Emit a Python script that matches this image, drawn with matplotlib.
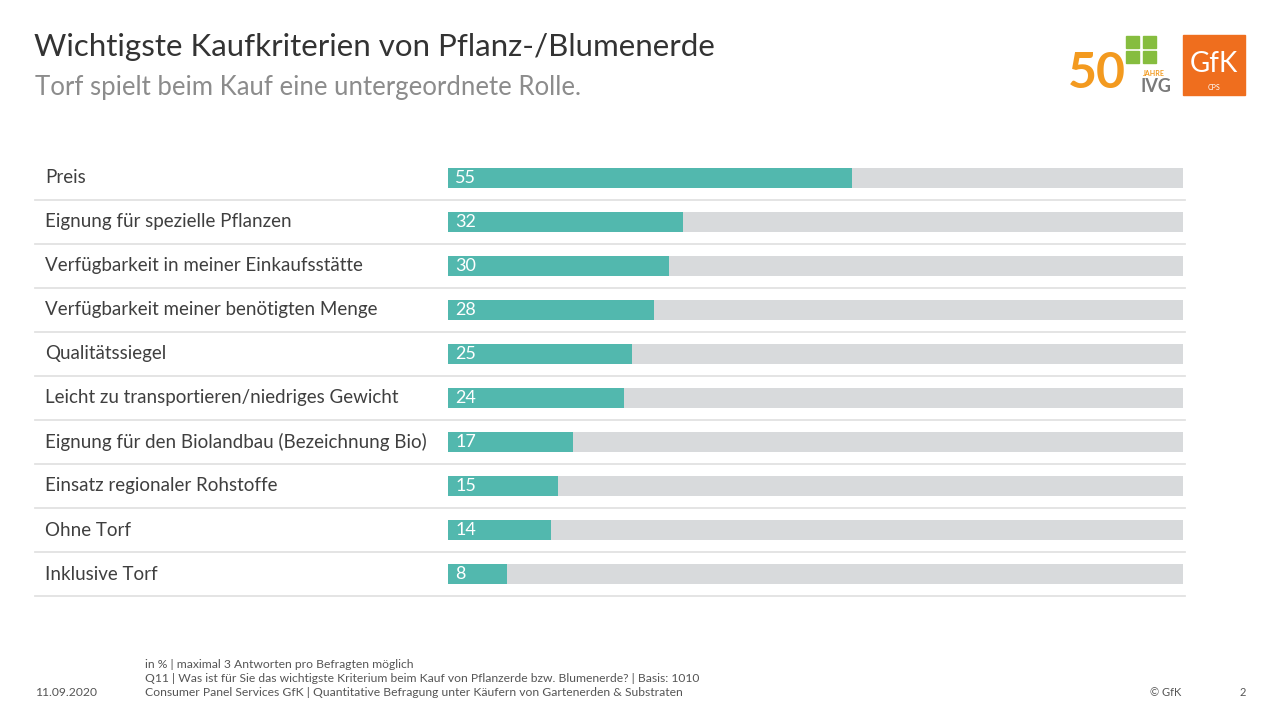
import matplotlib.pyplot as plt
from matplotlib.patches import Rectangle
import matplotlib.transforms as mtransforms

plt.rcParams['font.family'] = ['Lato', 'DejaVu Sans']

kriterien = [
    "Preis",
    "Eignung für spezielle Pflanzen",
    "Verfügbarkeit in meiner Einkaufsstätte",
    "Verfügbarkeit meiner benötigten Menge",
    "Qualitätssiegel",
    "Leicht zu transportieren/niedriges Gewicht",
    "Eignung für den Biolandbau (Bezeichnung Bio)",
    "Einsatz regionaler Rohstoffe",
    "Ohne Torf",
    "Inklusive Torf",
]
werte = [55, 32, 30, 28, 25, 24, 17, 15, 14, 8]
maximum = 100

fussnoten = [
    "in % | maximal 3 Antworten pro Befragten möglich",
    "Q11 | Was ist für Sie das wichtigste Kriterium beim Kauf von Pflanzerde bzw. Blumenerde? | Basis: 1010",
    "Consumer Panel Services GfK | Quantitative Befragung unter Käufern von Gartenerden & Substraten",
]

W, H = 1280, 720
fig = plt.figure(figsize=(12.8, 7.2), dpi=100)
fig.patch.set_facecolor("white")

def fx(px):
    return px / W

def fy(py):
    return 1 - py / H

teal = "#52b8ae"
grau = "#d8dadc"
textfarbe = "#3f3f3f"

# bar area
ax = fig.add_axes([fx(448), fy(596), fx(1183) - fx(448), 440 / H])
n = len(kriterien)
pos = list(range(n))
ax.barh(pos, [maximum] * n, height=0.47, color=grau, zorder=1)
ax.barh(pos, werte, height=0.47, color=teal, zorder=2)
ax.set_xlim(0, maximum)
ax.set_ylim(n - 0.5, -0.5)
ax.axis("off")

trans = mtransforms.blended_transform_factory(fig.transFigure, ax.transData)
for i, (k, v) in enumerate(zip(kriterien, werte)):
    ax.text(fx(45), i, k, transform=trans, ha="left", va="center",
            fontsize=13.5, color=textfarbe)
    ax.text(1.0, i, str(v), ha="left", va="center", fontsize=13,
            color="white", zorder=3)
    ax.plot([fx(35), fx(1185)], [i + 0.5, i + 0.5], transform=trans,
            color="#e2e2e2", lw=1.3, clip_on=False, zorder=0)

# title
fig.text(fx(34), fy(47), "Wichtigste Kaufkriterien von Pflanz-/Blumenerde",
         ha="left", va="center", fontsize=22.5, color="#333333")
fig.text(fx(35), fy(87), "Torf spielt beim Kauf eine untergeordnete Rolle.",
         ha="left", va="center", fontsize=18.5, color="#8c8c8c")

# logos
fig.patches.append(Rectangle((fx(1183), fy(95)), fx(62), 60 / H,
                             transform=fig.transFigure, color="#ef6e1e"))
fig.text(fx(1214), fy(64), "GfK", ha="center", va="center", fontsize=20,
         color="white")
fig.text(fx(1214), fy(87), "CPS", ha="center", va="center", fontsize=5,
         color="white")
fig.text(fx(1068), fy(74), "50", ha="left", va="center", fontsize=36,
         fontweight="bold", color="#f39a1f")
for (x0, y0) in [(1126, 36), (1143, 36), (1126, 51), (1143, 51)]:
    fig.patches.append(Rectangle((fx(x0), fy(y0 + 12)), fx(13), 12 / H,
                                 transform=fig.transFigure, color="#86bd3f"))
fig.text(fx(1143), fy(73), "JAHRE", ha="left", va="center", fontsize=5,
         fontweight="bold", color="#f39a1f")
fig.text(fx(1141), fy(87), "IVG", ha="left", va="center", fontsize=13,
         fontweight="bold", color="#7a7a7a")

# footer
for j, t in enumerate(fussnoten):
    fig.text(fx(145), fy(664 + 14 * j), t, ha="left", va="center",
             fontsize=8.7, color="#555555")
fig.text(fx(35), fy(692), "11.09.2020", ha="left", va="center",
         fontsize=8.7, color="#555555")
fig.text(fx(1150), fy(692), "© GfK", ha="left", va="center",
         fontsize=8, color="#555555")
fig.text(fx(1240), fy(692), "2", ha="left", va="center",
         fontsize=8, color="#555555")

fig.savefig("out.png", dpi=100)
